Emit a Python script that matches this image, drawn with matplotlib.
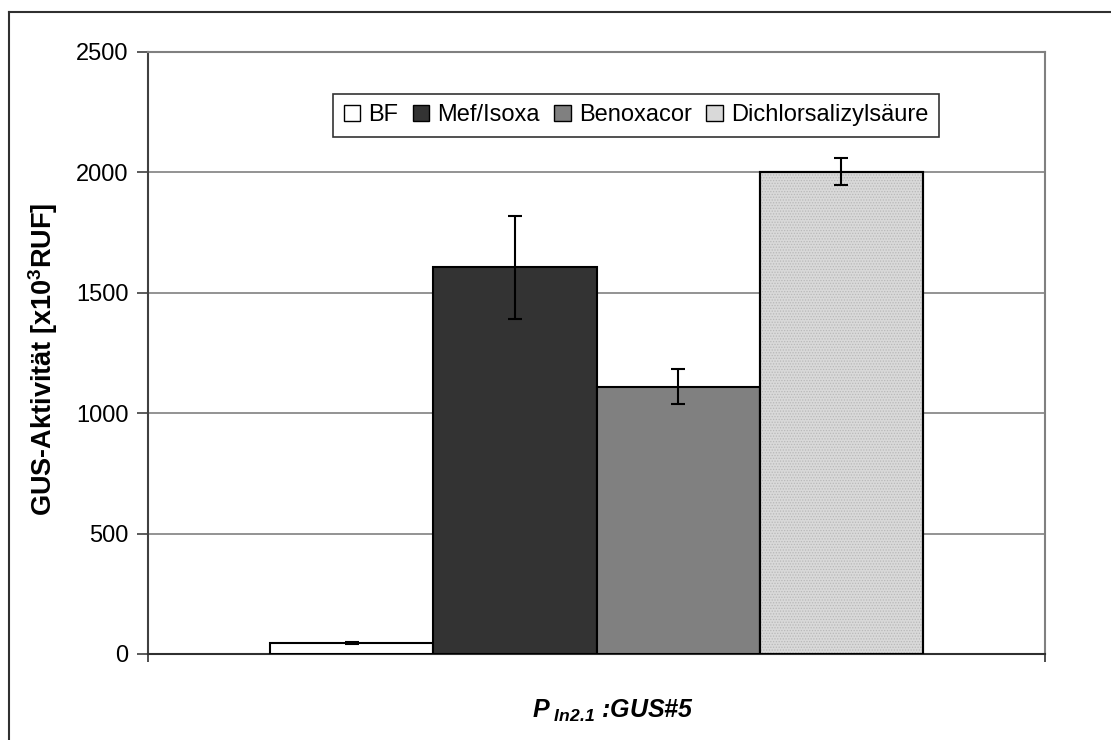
import matplotlib.pyplot as plt
import numpy as np
from matplotlib.lines import Line2D

plt.rcParams["font.family"] = ["Liberation Sans", "DejaVu Sans"]
plt.rcParams["mathtext.fontset"] = "custom"
plt.rcParams["mathtext.it"] = "Liberation Sans:bold:italic"
plt.rcParams["mathtext.rm"] = "Liberation Sans:bold:italic"
plt.rcParams["mathtext.bf"] = "Liberation Sans:bold"
plt.rcParams["hatch.linewidth"] = 0.6
font_size = 17

treatments = ["BF", "Mef/Isoxa", "Benoxacor", "Dichlorsalizylsäure"]
activity = [44, 1606, 1110, 2003]
errors = [4, 213, 72, 57]
bar_colors = ["#ffffff", "#333333", "#808080", "#d9d9d9"]
y_ticks = [0, 500, 1000, 1500, 2000, 2500]

fig = plt.figure(figsize=(11.11, 7.4), dpi=100)
ax = fig.add_axes([148 / 1111, 1 - 654 / 740, 897 / 1111, 602 / 740])

x = np.arange(len(treatments))
width = 1.0
bars = ax.bar(x, activity, width, color=bar_colors, edgecolor="black",
              linewidth=1.5, zorder=3)
# dotted texture on the last bar
ax.bar(x[-1], activity[-1], width, color="none", edgecolor="#b8b8b8",
       hatch="......", linewidth=0, zorder=3.5)
ax.bar(x[-1], activity[-1], width, color="none", edgecolor="black",
       linewidth=1.5, zorder=3.6)
ax.errorbar(x, activity, yerr=errors, fmt="none", ecolor="black",
            elinewidth=1.5, capsize=5, capthick=1.5, zorder=4)

ax.set_xlim(-1.25, 4.25)
ax.set_ylim(0, 2500)
ax.set_yticks(y_ticks)
ax.set_xticks([-1.25, 4.25])
ax.set_xticklabels([])
ax.tick_params(axis="y", direction="out", length=8, width=1.2, color="#404040",
               labelsize=font_size, pad=6)
ax.tick_params(axis="x", direction="out", length=6, width=1.2, color="#303030")
ax.yaxis.grid(True, color="#808080", linewidth=1.2, zorder=0)
ax.set_axisbelow(True)

ax.spines["left"].set_color("#404040")
ax.spines["left"].set_linewidth(1.5)
ax.spines["bottom"].set_color("#303030")
ax.spines["bottom"].set_linewidth(1.5)
ax.spines["top"].set_color("#808080")
ax.spines["top"].set_linewidth(1.5)
ax.spines["right"].set_color("#808080")
ax.spines["right"].set_linewidth(1.5)

ax.set_ylabel(r"GUS-Aktivität [x10$^{\mathbf{3}}$RUF]", fontsize=19.5,
              fontweight="bold")
ax.yaxis.set_label_coords(-0.098, 0.49)
ax.set_xlabel(r"$P_{\ In2.1}$ :GUS#5", fontsize=18, fontweight="bold",
              style="italic")
ax.xaxis.set_label_coords(0.518, -0.072)

handles = [bars[i] for i in range(len(treatments))]
leg = ax.legend(handles, treatments, loc="center", bbox_to_anchor=(0.544, 0.895),
                ncol=4, fontsize=font_size, frameon=True, fancybox=False,
                edgecolor="black", handlelength=0.7, handleheight=0.7,
                handletextpad=0.35, columnspacing=0.6, borderpad=0.45,
                borderaxespad=0)
leg.get_frame().set_linewidth(1.2)
for h in leg.legend_handles:
    h.set_linewidth(1.0)

# outer chart frame (left and top edges visible)
fig.add_artist(Line2D([9 / 1111, 9 / 1111], [0, 1 - 12 / 740], color="#303030",
                      linewidth=1.5))
fig.add_artist(Line2D([9 / 1111, 1], [1 - 12 / 740, 1 - 12 / 740], color="#303030",
                      linewidth=1.5))

fig.savefig("out.png", dpi=100)
